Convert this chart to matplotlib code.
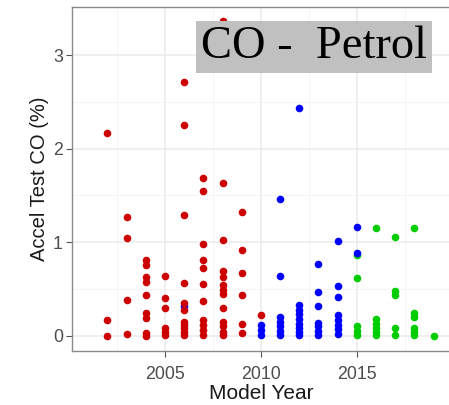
import numpy as np
import matplotlib.pyplot as plt
import matplotlib.ticker as mticker

# --- data (model year, accel test CO %) ---
red_year = [2002, 2002, 2002,
            2003, 2003, 2003, 2003,
            2004, 2004, 2004, 2004, 2004, 2004, 2004, 2004, 2004,
            2005, 2005, 2005, 2005, 2005, 2005,
            2006, 2006, 2006, 2006, 2006, 2006, 2006, 2006, 2006, 2006, 2006,
            2007, 2007, 2007, 2007, 2007, 2007, 2007, 2007, 2007, 2007, 2007,
            2008, 2008, 2008, 2008, 2008, 2008, 2008, 2008, 2008, 2008, 2008, 2008, 2008,
            2009, 2009, 2009, 2009, 2009, 2009,
            2010]
red_co = [2.17, 0.17, 0.0,
          1.275, 1.04, 0.38, 0.015,
          0.81, 0.76, 0.63, 0.58, 0.435, 0.24, 0.19, 0.025, 0.0,
          0.64, 0.40, 0.30, 0.08, 0.04, 0.01,
          2.71, 2.25, 1.29, 0.56, 0.35, 0.275, 0.15, 0.11, 0.08, 0.04, 0.01,
          1.69, 1.55, 0.98, 0.81, 0.72, 0.55, 0.37, 0.17, 0.11, 0.06, 0.01,
          3.37, 1.63, 1.025, 0.69, 0.63, 0.54, 0.49, 0.45, 0.30, 0.15, 0.10, 0.04, 0.01,
          1.32, 0.92, 0.675, 0.435, 0.13, 0.025,
          0.22]

blue_year = [2006,
             2010, 2010, 2010,
             2011, 2011, 2011, 2011, 2011, 2011, 2011,
             2012, 2012, 2012, 2012, 2012, 2012, 2012, 2012, 2012,
             2013, 2013, 2013, 2013, 2013, 2013, 2013,
             2014, 2014, 2014, 2014, 2014, 2014, 2014, 2014,
             2015, 2015]
blue_co = [0.32,
           0.11, 0.06, 0.01,
           1.46, 0.64, 0.20, 0.15, 0.10, 0.05, 0.01,
           2.44, 0.33, 0.28, 0.23, 0.18, 0.13, 0.08, 0.04, 0.01,
           0.77, 0.47, 0.32, 0.14, 0.10, 0.05, 0.01,
           1.01, 0.535, 0.415, 0.22, 0.17, 0.12, 0.07, 0.02,
           1.16, 0.89]

green_year = [2015, 2015, 2015, 2015, 2015,
              2016, 2016, 2016, 2016, 2016, 2016,
              2017, 2017, 2017, 2017, 2017,
              2018, 2018, 2018, 2018, 2018, 2018,
              2019]
green_co = [0.865, 0.615, 0.10, 0.05, 0.01,
            1.15, 0.18, 0.13, 0.08, 0.04, 0.01,
            1.06, 0.48, 0.44, 0.08, 0.01,
            1.15, 0.24, 0.20, 0.08, 0.04, 0.01,
            0.0]

fig = plt.figure(figsize=(4.49, 4.05), dpi=100)
ax = fig.add_axes([72 / 449, 1 - 351 / 405, 378 / 449, 344 / 405])

ms = 30
ax.scatter(green_year, green_co, s=ms, color='#00CD00', linewidths=0, zorder=3)
ax.scatter(blue_year, blue_co, s=ms, color='#0000FF', linewidths=0, zorder=3)
ax.scatter(red_year, red_co, s=ms, color='#CD0000', linewidths=0, zorder=3)

ax.set_xlim(2000.15, 2019.86)
ax.set_ylim(-0.163, 3.515)

ax.xaxis.set_major_locator(mticker.FixedLocator([2005, 2010, 2015]))
ax.xaxis.set_minor_locator(mticker.FixedLocator([2002.5, 2007.5, 2012.5, 2017.5]))
ax.yaxis.set_major_locator(mticker.FixedLocator([0, 1, 2, 3]))
ax.yaxis.set_minor_locator(mticker.FixedLocator([0.5, 1.5, 2.5]))

ax.grid(True, which='major', color='#EBEBEB', linewidth=1.1, zorder=0)
ax.grid(True, which='minor', color='#F2F2F2', linewidth=0.6, zorder=0)
ax.set_axisbelow(True)

for sp in ax.spines.values():
    sp.set_color('#8A8A8A')
    sp.set_linewidth(1.0)
ax.spines['right'].set_visible(False)

ax.tick_params(which='major', length=4.5, width=0.8, color='#555555',
               labelcolor='#4D4D4D', labelsize=12.8)
ax.tick_params(axis='x', which='major', pad=6)
ax.tick_params(axis='y', which='major', pad=2)
ax.tick_params(which='minor', length=0)
for lab in ax.get_xticklabels() + ax.get_yticklabels():
    lab.set_family('Liberation Sans')

ax.set_xlabel('Model Year', fontsize=15, family='Liberation Sans', color='#1A1A1A', labelpad=1)
ax.set_ylabel('Accel Test CO (%)', fontsize=14.5, family='Liberation Sans', color='#1A1A1A', labelpad=3)

fig.text(314 / 449, 1 - 47 / 405, 'CO -  Petrol', family='Liberation Serif', fontsize=33.5,
         ha='center', va='center', color='black',
         bbox=dict(facecolor='#C0C0C0', edgecolor='none', boxstyle='square,pad=0.1'))

fig.savefig('out.png', dpi=100)
